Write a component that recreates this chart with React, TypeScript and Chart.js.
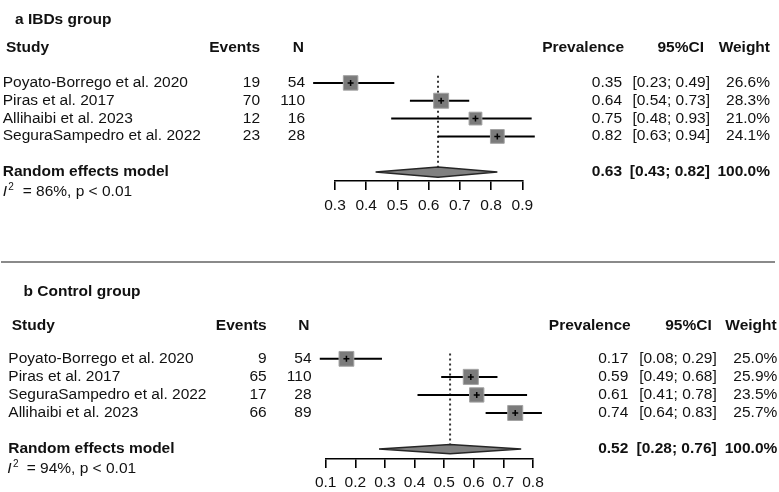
import React, { useEffect, useRef } from "react";
import { Chart, registerables } from "chart.js";

Chart.register(...registerables);

// ---------- Panel a: IBDs group ----------
const TITLE_A = "a IBDs group";
const STUDIES_A = [
  "Poyato-Borrego et al. 2020",
  "Piras et al. 2017",
  "Allihaibi et al. 2023",
  "SeguraSampedro et al. 2022",
];
const EVENTS_A = [19, 70, 12, 23];
const N_A = [54, 110, 16, 28];
const PREV_A = [0.35, 0.64, 0.75, 0.82];
const LO_A = [0.23, 0.54, 0.48, 0.63];
const HI_A = [0.49, 0.73, 0.93, 0.94];
const WEIGHT_A = [26.6, 28.3, 21.0, 24.1];
const POOLED_A = [0.63, 0.43, 0.82]; // estimate, lower, upper
const HET_A = "= 86%, p < 0.01";
const TICKS_A = [0.3, 0.4, 0.5, 0.6, 0.7, 0.8, 0.9];

// ---------- Panel b: Control group ----------
const TITLE_B = "b Control group";
const STUDIES_B = [
  "Poyato-Borrego et al. 2020",
  "Piras et al. 2017",
  "SeguraSampedro et al. 2022",
  "Allihaibi et al. 2023",
];
const EVENTS_B = [9, 65, 17, 66];
const N_B = [54, 110, 28, 89];
const PREV_B = [0.17, 0.59, 0.61, 0.74];
const LO_B = [0.08, 0.49, 0.41, 0.64];
const HI_B = [0.29, 0.68, 0.78, 0.83];
const WEIGHT_B = [25.0, 25.9, 23.5, 25.7];
const POOLED_B = [0.52, 0.28, 0.76];
const HET_B = "= 94%, p < 0.01";
const TICKS_B = [0.1, 0.2, 0.3, 0.4, 0.5, 0.6, 0.7, 0.8];

const FONT_FAMILY = '"Liberation Sans", Arial, sans-serif';
const FS = 15.5;
const TEXT = "#111";

type Panel = {
  title: string;
  studies: string[];
  events: number[];
  n: number[];
  prev: number[];
  lo: number[];
  hi: number[];
  weight: number[];
  pooled: number[];
  het: string;
  ticks: number[];
  // layout
  top: number;
  height: number;
  padL: number;
  padR: number;
  axisH: number;
  yMin: number;
  yMax: number;
  tickPad: number;
  k: number;
  diamondH: number;
  dotTop: number;
  cols: { name: number; events: number; n: number; prev: number; ci: number; wt: number };
  hcols: { study: number; events: number; n: number; prev: number; ci: number; wt: number };
  titleX: number;
  titleIdx: number;
  headerIdx: number;
  pooledIdx: number;
  hetIdx: number;
  hetX: number;
  hetEqX: number;
};

const PANEL_A: Panel = {
  title: TITLE_A,
  studies: STUDIES_A,
  events: EVENTS_A,
  n: N_A,
  prev: PREV_A,
  lo: LO_A,
  hi: HI_A,
  weight: WEIGHT_A,
  pooled: POOLED_A,
  het: HET_A,
  ticks: TICKS_A,
  top: 0,
  height: 260,
  padL: 335,
  padR: 256.7,
  axisH: 79,
  yMin: -4,
  yMax: 5.5,
  tickPad: 6,
  k: 2.95,
  diamondH: 0.29,
  dotTop: -0.4,
  cols: { name: 2.7, events: 260, n: 305, prev: 622, ci: 710, wt: 770 },
  hcols: { study: 6, events: 260, n: 304, prev: 624, ci: 704, wt: 770 },
  titleX: 15,
  titleIdx: -3.53,
  headerIdx: -1.95,
  pooledIdx: 5,
  hetIdx: 6.1,
  hetX: 2.7,
  hetEqX: 22.7,
};

const PANEL_B: Panel = {
  title: TITLE_B,
  studies: STUDIES_B,
  events: EVENTS_B,
  n: N_B,
  prev: PREV_B,
  lo: LO_B,
  hi: HI_B,
  weight: WEIGHT_B,
  pooled: POOLED_B,
  het: HET_B,
  ticks: TICKS_B,
  top: 262,
  height: 230,
  padL: 325.7,
  padR: 246,
  axisH: 33,
  yMin: -4.72,
  yMax: 5.55,
  tickPad: 5,
  k: 3.1,
  diamondH: 0.26,
  dotTop: -0.3,
  cols: { name: 8.3, events: 266.7, n: 311.5, prev: 628.3, ci: 716.7, wt: 777.3 },
  hcols: { study: 11.7, events: 266.7, n: 309.5, prev: 630.7, ci: 711.7, wt: 776.7 },
  titleX: 23.5,
  titleIdx: -3.73,
  headerIdx: -1.81,
  pooledIdx: 5,
  hetIdx: 6.09,
  hetX: 7.3,
  hetEqX: 26.7,
};

function makeTextPlugin(p: Panel) {
  return {
    id: "forestText",
    afterDraw(chart: any) {
      const ctx: CanvasRenderingContext2D = chart.ctx;
      const ys = chart.scales.y;
      const Y = (idx: number) => ys.getPixelForValue(idx) + 4;
      const reg = `${FS}px ${FONT_FAMILY}`;
      const bold = `bold ${FS}px ${FONT_FAMILY}`;
      ctx.save();
      ctx.fillStyle = TEXT;
      ctx.textBaseline = "alphabetic";
      const put = (s: string, x: number, y: number, align: CanvasTextAlign, font: string) => {
        ctx.font = font;
        ctx.textAlign = align;
        ctx.fillText(s, x, y);
      };
      // title
      put(p.title, p.titleX, Y(p.titleIdx), "left", bold);
      // header
      const hy = Y(p.headerIdx);
      put("Study", p.hcols.study, hy, "left", bold);
      put("Events", p.hcols.events, hy, "right", bold);
      put("N", p.hcols.n, hy, "right", bold);
      put("Prevalence", p.hcols.prev, hy, "right", bold);
      put("95%CI", p.hcols.ci, hy, "right", bold);
      put("Weight", p.hcols.wt, hy, "right", bold);
      // rows
      p.studies.forEach((s, i) => {
        const y = Y(i);
        put(s, p.cols.name, y, "left", reg);
        put(String(p.events[i]), p.cols.events, y, "right", reg);
        put(String(p.n[i]), p.cols.n, y, "right", reg);
        put(p.prev[i].toFixed(2), p.cols.prev, y, "right", reg);
        put(`[${p.lo[i].toFixed(2)}; ${p.hi[i].toFixed(2)}]`, p.cols.ci, y, "right", reg);
        put(`${p.weight[i].toFixed(1)}%`, p.cols.wt, y, "right", reg);
      });
      // pooled
      const py = Y(p.pooledIdx);
      put("Random effects model", p.cols.name, py, "left", bold);
      put(p.pooled[0].toFixed(2), p.cols.prev, py, "right", bold);
      put(`[${p.pooled[1].toFixed(2)}; ${p.pooled[2].toFixed(2)}]`, p.cols.ci, py, "right", bold);
      const totalW = p.weight.reduce((a, b) => a + b, 0);
      put(`${Math.round(totalW).toFixed(1)}%`, p.cols.wt, py, "right", bold);
      // heterogeneity
      const hy2 = Y(p.hetIdx);
      put("I", p.hetX, hy2, "left", `italic ${FS}px ${FONT_FAMILY}`);
      put("2", p.hetX + 5.6, hy2 - 6, "left", `10px ${FONT_FAMILY}`);
      put(p.het, p.hetEqX, hy2, "left", reg);
      ctx.restore();
    },
  };
}

function ForestPanel({ p }: { p: Panel }) {
  const ref = useRef<HTMLCanvasElement>(null);
  useEffect(() => {
    const canvas = ref.current;
    if (!canvas) return;
    const datasets: any[] = [];
    // dotted pooled line
    datasets.push({
      type: "scatter",
      data: [
        { x: p.pooled[0], y: p.dotTop },
        { x: p.pooled[0], y: p.pooledIdx },
      ],
      showLine: true,
      borderColor: "#333",
      borderWidth: 2,
      borderDash: [2, 3],
      pointRadius: 0,
      order: 6,
      clip: false,
    });
    // CI lines
    p.lo.forEach((lo, i) => {
      datasets.push({
        type: "scatter",
        data: [
          { x: lo, y: i },
          { x: p.hi[i], y: i },
        ],
        showLine: true,
        borderColor: "#000",
        borderWidth: 2,
        pointRadius: 0,
        order: 5,
        clip: false,
      });
    });
    // squares
    datasets.push({
      type: "scatter",
      data: p.prev.map((v, i) => ({ x: v, y: i })),
      pointStyle: "rect",
      pointRadius: (c: any) => (p.k * Math.sqrt(p.weight[c.dataIndex])) / Math.SQRT2 - 0.5,
      backgroundColor: "#7b7b7b",
      borderColor: "#a3a3a3",
      borderWidth: 1,
      order: 4,
      clip: false,
    });
    // point estimate marks
    datasets.push({
      type: "scatter",
      data: p.prev.map((v, i) => ({ x: v, y: i })),
      pointStyle: "cross",
      pointRadius: 3,
      borderColor: "#000",
      borderWidth: 1.5,
      order: 3,
      clip: false,
    });
    // diamond
    const [est, dlo, dhi] = p.pooled;
    datasets.push({
      type: "line",
      data: [
        { x: dlo, y: p.pooledIdx },
        { x: est, y: p.pooledIdx - p.diamondH },
        { x: dhi, y: p.pooledIdx },
        { x: est, y: p.pooledIdx + p.diamondH },
        { x: dlo, y: p.pooledIdx },
      ],
      fill: "shape",
      backgroundColor: "#808080",
      borderColor: "#262626",
      borderWidth: 1.5,
      pointRadius: 0,
      tension: 0,
      order: 1,
      clip: false,
    });

    const chart = new Chart(canvas, {
      type: "scatter",
      data: { datasets },
      options: {
        animation: false,
        responsive: true,
        maintainAspectRatio: false,
        events: [],
        layout: { padding: { left: p.padL, right: p.padR, top: 0, bottom: 0 } },
        plugins: {
          legend: { display: false },
          tooltip: { enabled: false },
          title: { display: false },
        },
        scales: {
          x: {
            type: "linear",
            position: "bottom",
            min: p.ticks[0],
            max: p.ticks[p.ticks.length - 1],
            afterBuildTicks: (scale: any) => {
              scale.ticks = p.ticks.map((v) => ({ value: v }));
            },
            afterFit: (scale: any) => {
              scale.height = p.axisH;
            },
            ticks: {
              autoSkip: false,
              maxRotation: 0,
              padding: p.tickPad,
              color: TEXT,
              font: { family: FONT_FAMILY, size: FS },
              callback: (v: any) => Number(v).toFixed(1),
            },
            grid: {
              drawOnChartArea: false,
              drawTicks: true,
              tickLength: 9,
              color: "#000",
              lineWidth: 1.6,
            },
            border: { display: true, color: "#000", width: 1.6 },
          },
          y: {
            type: "linear",
            display: false,
            reverse: true,
            min: p.yMin,
            max: p.yMax,
          },
        },
      } as any,
      plugins: [makeTextPlugin(p)],
    });
    return () => chart.destroy();
  }, [p]);

  return (
    <div
      style={{
        position: "absolute",
        left: 0,
        top: p.top,
        width: 779,
        height: p.height,
      }}
    >
      <canvas ref={ref} style={{ display: "block" }} />
    </div>
  );
}

export default function App() {
  return (
    <div
      style={{
        position: "absolute",
        left: 0,
        top: 0,
        width: 779,
        height: 492,
        background: "#fff",
        overflow: "hidden",
      }}
    >
      <ForestPanel p={PANEL_A} />
      <div
        style={{
          position: "absolute",
          left: 1,
          top: 260.5,
          width: 774,
          height: 2,
          background: "#8a8a8a",
        }}
      />
      <ForestPanel p={PANEL_B} />
    </div>
  );
}
